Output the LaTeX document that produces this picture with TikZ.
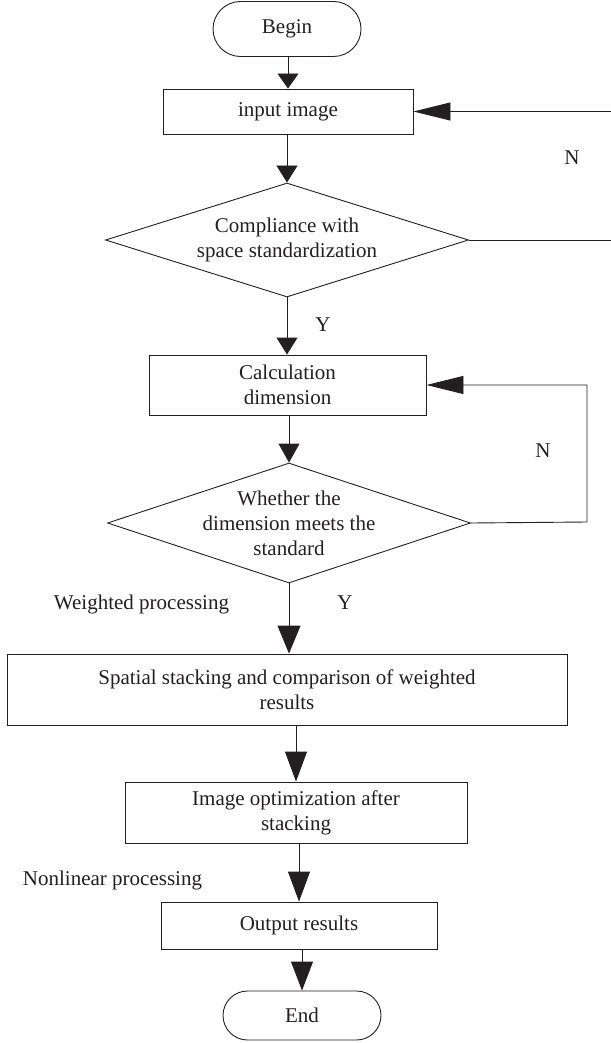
\documentclass[tikz,border=0pt]{standalone}
\usepackage{fontspec}
\setmainfont{Liberation Serif}
\usepackage{xcolor}
\usepackage{tikz}
\usetikzlibrary{shapes.geometric, shapes.misc, arrows.meta, positioning, calc}
\definecolor{FlowInk}{RGB}{35, 31, 32}

\begin{document}
\begin{tikzpicture}[x=1pt, y=-1pt, line width=0.9pt, draw=FlowInk,
    every node/.style={font=\fontsize{21}{25}\selectfont, text=FlowInk},
    termbox/.style={rounded rectangle, draw=FlowInk, inner sep=0pt},
    procbox/.style={rectangle, draw=FlowInk, align=center, inner sep=0pt},
    testbox/.style={diamond, draw=FlowInk, inner sep=0pt},
    flow/.style={-{Triangle[length=#1, width=21pt]}},
    flow/.default=17pt,
    backflow/.style={-{Triangle[length=37pt, width=18pt]}}]
  \useasboundingbox (0,0) rectangle (610,1043);

  % main column
  \node[termbox, minimum width=148pt, minimum height=55pt] (begin) at (287,29) {Begin};
  \node[procbox, minimum width=250pt, minimum height=45pt] (input) at (288,111.5) {input image};
  \node[testbox, minimum width=363pt, minimum height=114pt,
        label={[align=center]center:Compliance with\\space standardization}] (check1) at (287,240) {};
  \node[procbox, minimum width=277pt, minimum height=60pt] (calc) at (287.5,385) {Calculation\\dimension};
  \node[testbox, minimum width=363pt, minimum height=120pt,
        label={[align=center]center:Whether the\\dimension meets the\\standard}] (check2) at (289,523) {};
  \node[procbox, minimum width=560pt, minimum height=71pt] (stack) at (287,689.5)
    {Spatial stacking and comparison of weighted\\results};
  \node[procbox, minimum width=342pt, minimum height=61pt] (optim) at (296,812.5)
    {Image optimization after\\stacking};
  \node[procbox, minimum width=276pt, minimum height=47pt] (output) at (299,925.5) {Output results};
  \node[termbox, minimum width=158pt, minimum height=49pt] (end) at (302,1015.5) {End};

  % side texts
  \node (n1) at (572,158) {N};
  \node (y1) at (323,325) {Y};
  \node (n2) at (543,451) {N};
  \node (y2) at (345,603) {Y};
  \node (weighted) at (141.5,604) {Weighted processing};
  \node (nonlinear) at (112.5,880) {Nonlinear processing};

  \coordinate (loop1) at (616,240);
  \coordinate (loop2) at (587,522);

  % arrows
  \draw[flow=15pt] (begin.south -| input.north) -- (input.north);
  \draw[flow] (input.south -| check1.north) -- (check1.north);
  \draw[flow] (check1.south) -- (calc.north -| check1.south);
  \draw[flow=19pt] (calc.south -| check2.north) -- (check2.north);
  \draw[-{Triangle[length=28pt, width=23pt]}] (check2.south) -- (stack.north -| check2.south);
  \draw[-{Triangle[length=30pt, width=22pt]}] (stack.south -| optim.north) -- (optim.north);
  \draw[-{Triangle[length=30pt, width=22pt]}] (optim.south -| output.north) -- (output.north);
  \draw[-{Triangle[length=29pt, width=22pt]}] (output.south -| end.north) -- (end.north);

  % loops back
  \draw[backflow] (check1.east) -- (loop1) |- (input.east);
  \draw[backflow] (check2.east) -- (loop2) |- (calc.east);
\end{tikzpicture}
\end{document}
